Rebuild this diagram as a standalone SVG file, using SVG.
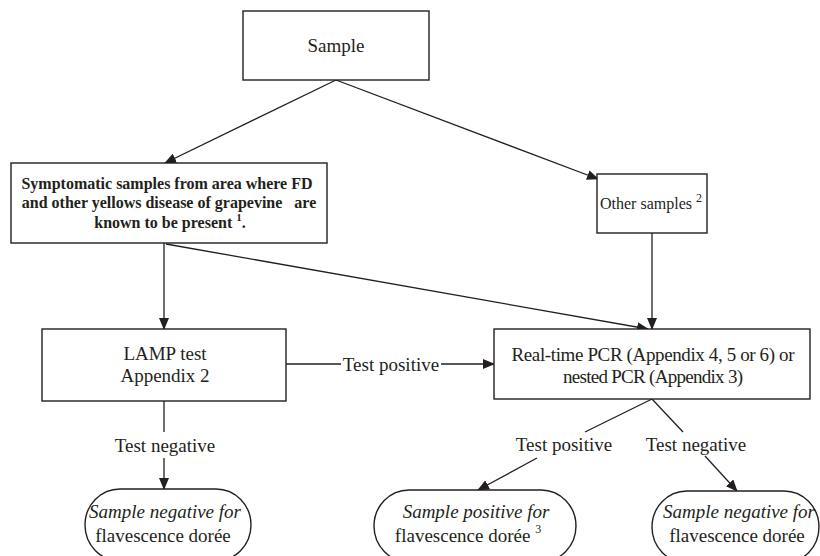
<svg xmlns="http://www.w3.org/2000/svg" width="820" height="556" viewBox="0 0 820 556">
<style>
.box{fill:#fff;stroke:#231f20;stroke-width:1.4}
.ln{fill:none;stroke:#231f20;stroke-width:1.3}
.t{font-family:"Liberation Serif","Times New Roman",serif;font-size:19px;fill:#231f20;text-anchor:middle}
.b{font-weight:bold;font-size:16px}
.i{font-style:italic}
</style>
<defs>
<marker id="ah" markerWidth="12" markerHeight="10" refX="11" refY="5" orient="auto" markerUnits="userSpaceOnUse">
<path d="M0,0 L12,5 L0,10 Z" fill="#231f20"/>
</marker>
</defs>
<rect width="820" height="556" fill="#fff"/>
<g id="connectors">
<line class="ln" x1="336" y1="80" x2="165" y2="163" marker-end="url(#ah)"/>
<line class="ln" x1="336" y1="80" x2="598" y2="179" marker-end="url(#ah)"/>
<line class="ln" x1="164" y1="243" x2="164" y2="329" marker-end="url(#ah)"/>
<line class="ln" x1="166" y1="244" x2="648" y2="329" marker-end="url(#ah)"/>
<line class="ln" x1="652" y1="233" x2="652" y2="329" marker-end="url(#ah)"/>
<line class="ln" x1="286" y1="364" x2="341" y2="364"/>
<line class="ln" x1="441" y1="364" x2="494" y2="364" marker-end="url(#ah)"/>
<line class="ln" x1="164" y1="401" x2="164" y2="432"/>
<line class="ln" x1="164" y1="458" x2="164" y2="489" marker-end="url(#ah)"/>
<line class="ln" x1="652" y1="399" x2="585" y2="432"/>
<line class="ln" x1="537" y1="458" x2="478" y2="490" marker-end="url(#ah)"/>
<line class="ln" x1="652" y1="399" x2="683" y2="432"/>
<line class="ln" x1="705" y1="456" x2="737" y2="491" marker-end="url(#ah)"/>
<text class="t" x="391" y="371">Test positive</text>
<text class="t" x="165" y="452">Test negative</text>
<text class="t" x="564" y="451">Test positive</text>
<text class="t" x="696" y="451">Test negative</text>
</g>
<g id="sample">
<rect class="box" x="243" y="11" width="186" height="69"/>
<text class="t" x="336" y="52">Sample</text>
</g>
<g id="symptomatic">
<rect class="box" x="11" y="163" width="316" height="80"/>
<text class="t b" x="167" y="189">Symptomatic samples from area where FD</text>
<text class="t b" x="169" y="208" xml:space="preserve">and other yellows disease of grapevine   are</text>
<text class="t b" x="170" y="228" xml:space="preserve">known to be present <tspan font-size="11" dy="-7">1</tspan><tspan dy="7">.</tspan></text>
</g>
<g id="other">
<rect class="box" x="597" y="174" width="110" height="59"/>
<text class="t" x="651" y="209" style="font-size:16px">Other samples <tspan font-size="12" dy="-7">2</tspan></text>
</g>
<g id="lamp">
<rect class="box" x="42" y="329" width="244" height="72"/>
<text class="t" x="165" y="360">LAMP test</text>
<text class="t" x="165" y="382">Appendix 2</text>
</g>
<g id="pcr">
<rect class="box" x="494" y="329" width="316" height="70"/>
<text class="t" x="653" y="361" textLength="283" lengthAdjust="spacing">Real-time PCR (Appendix 4, 5 or 6) or</text>
<text class="t" x="653" y="383" textLength="180" lengthAdjust="spacing">nested PCR (Appendix 3)</text>
</g>
<g id="neg1">
<rect class="box" x="85" y="489" width="166" height="72" rx="35" ry="36"/>
<text class="t i" x="165" y="518">Sample negative for</text>
<text class="t" x="163" y="542">flavescence dorée</text>
</g>
<g id="pos">
<rect class="box" x="374" y="490" width="202" height="72" rx="35" ry="36"/>
<text class="t i" x="476" y="518">Sample positive for</text>
<text class="t" x="468" y="542">flavescence dorée <tspan font-size="12" dy="-9">3</tspan></text>
</g>
<g id="neg2">
<rect class="box" x="652" y="491" width="167" height="72" rx="35" ry="36"/>
<text class="t i" x="739" y="518">Sample negative for</text>
<text class="t" x="737" y="542">flavescence dorée</text>
</g>
</svg>
